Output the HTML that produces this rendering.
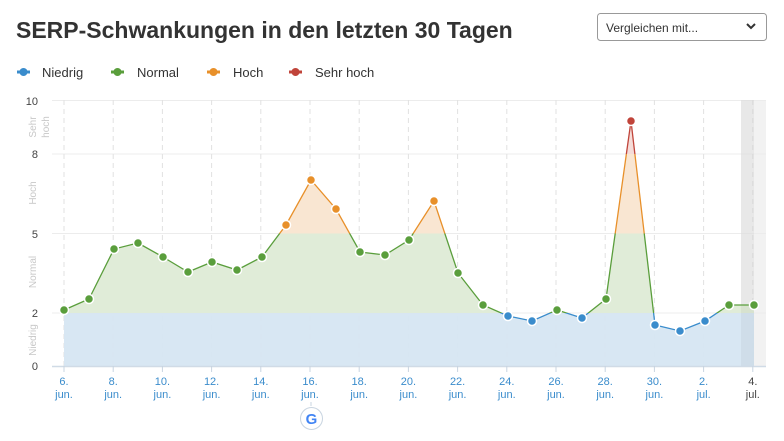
<!DOCTYPE html>
<html><head><meta charset="utf-8"><style>
body{margin:0;background:#fff;width:784px;height:436px;overflow:hidden;font-family:"Liberation Sans",sans-serif}
</style></head><body>
<svg width="784" height="436" xmlns="http://www.w3.org/2000/svg" font-family="Liberation Sans, sans-serif">
<defs>
<clipPath id="area"><path d="M64,366 L64,310 89,299 114,249 138,243 163,257 188,272 212,262 237,270 262,257 286,225 311,180 336,209 360,252 385,255 409,240 434,201 458,273 483,305 508,316 532,321 557,310 582,318 606,299 631,121 655,325 680,331 705,321 729,305 754,305 754,366 Z"/></clipPath>
<clipPath id="cb"><rect x="0" y="313" width="784" height="60"/></clipPath>
<clipPath id="cg"><rect x="0" y="233.5" width="784" height="79.5"/></clipPath>
<clipPath id="co"><rect x="0" y="154" width="784" height="79.5"/></clipPath>
<clipPath id="cr"><rect x="0" y="90" width="784" height="64"/></clipPath>
</defs>
<text x="16" y="38" font-size="23" font-weight="bold" fill="#333">SERP-Schwankungen in den letzten 30 Tagen</text>
<rect x="597.5" y="13.5" width="169" height="27" rx="3" fill="#fff" stroke="#999"/>
<text x="606" y="32" font-size="12" fill="#333">Vergleichen mit...</text>
<path d="M747,24 l4,4 l4,-4" stroke="#333" stroke-width="2" fill="none"/>
<g font-size="13" fill="#333">
<line x1="17" y1="72" x2="30" y2="72" stroke="#3a8ccc" stroke-width="3"/><circle cx="23.5" cy="72" r="4" fill="#3a8ccc"/><text x="42" y="77">Niedrig</text>
<line x1="111" y1="72" x2="124" y2="72" stroke="#5a9e3c" stroke-width="3"/><circle cx="117.5" cy="72" r="4" fill="#5a9e3c"/><text x="137" y="77">Normal</text>
<line x1="207" y1="72" x2="220" y2="72" stroke="#e8902a" stroke-width="3"/><circle cx="213.5" cy="72" r="4" fill="#e8902a"/><text x="233" y="77">Hoch</text>
<line x1="289" y1="72" x2="302" y2="72" stroke="#c0443a" stroke-width="3"/><circle cx="295.5" cy="72" r="4" fill="#c0443a"/><text x="315" y="77">Sehr hoch</text>
</g>
<rect x="741" y="100" width="25" height="266" fill="#f2f2f2"/>
<g stroke="#ececec" stroke-width="1">
<line x1="52" y1="100.5" x2="766" y2="100.5"/><line x1="52" y1="154" x2="766" y2="154"/><line x1="52" y1="233.5" x2="766" y2="233.5"/><line x1="52" y1="313" x2="766" y2="313"/>
</g>
<g stroke="#e2e2e2" stroke-dasharray="5,4">
<line x1="64" y1="100" x2="64" y2="366"/><line x1="113.2" y1="100" x2="113.2" y2="366"/><line x1="162.4" y1="100" x2="162.4" y2="366"/><line x1="211.6" y1="100" x2="211.6" y2="366"/><line x1="260.8" y1="100" x2="260.8" y2="366"/><line x1="310" y1="100" x2="310" y2="366"/><line x1="359.2" y1="100" x2="359.2" y2="366"/><line x1="408.4" y1="100" x2="408.4" y2="366"/><line x1="457.6" y1="100" x2="457.6" y2="366"/><line x1="506.8" y1="100" x2="506.8" y2="366"/><line x1="556" y1="100" x2="556" y2="366"/><line x1="605.2" y1="100" x2="605.2" y2="366"/><line x1="654.4" y1="100" x2="654.4" y2="366"/><line x1="703.6" y1="100" x2="703.6" y2="366"/><line x1="752.8" y1="100" x2="752.8" y2="366"/>
</g>
<g clip-path="url(#area)">
<rect x="0" y="313" width="784" height="53" fill="#d6e6f2" opacity="0.95"/>
<rect x="0" y="233.5" width="784" height="79.5" fill="#e0ecd8"/>
<rect x="0" y="154" width="784" height="79.5" fill="#f9e6d2"/>
<rect x="0" y="90" width="784" height="64" fill="#f5dcd8"/>
</g>
<rect x="741" y="100" width="13" height="266" fill="#000" opacity="0.04"/>
<line x1="52" y1="366.5" x2="766" y2="366.5" stroke="#d0dbe6" stroke-width="1.5"/>
<g stroke="#c8d4e0"><line x1="64" y1="366" x2="64" y2="372"/><line x1="113.2" y1="366" x2="113.2" y2="372"/><line x1="162.4" y1="366" x2="162.4" y2="372"/><line x1="211.6" y1="366" x2="211.6" y2="372"/><line x1="260.8" y1="366" x2="260.8" y2="372"/><line x1="310" y1="366" x2="310" y2="372"/><line x1="359.2" y1="366" x2="359.2" y2="372"/><line x1="408.4" y1="366" x2="408.4" y2="372"/><line x1="457.6" y1="366" x2="457.6" y2="372"/><line x1="506.8" y1="366" x2="506.8" y2="372"/><line x1="556" y1="366" x2="556" y2="372"/><line x1="605.2" y1="366" x2="605.2" y2="372"/><line x1="654.4" y1="366" x2="654.4" y2="372"/><line x1="703.6" y1="366" x2="703.6" y2="372"/><line x1="752.8" y1="366" x2="752.8" y2="372"/></g>
<g fill="none" stroke-width="1.3">
<polyline clip-path="url(#cb)" stroke="#3a8ccc" points="64,310 89,299 114,249 138,243 163,257 188,272 212,262 237,270 262,257 286,225 311,180 336,209 360,252 385,255 409,240 434,201 458,273 483,305 508,316 532,321 557,310 582,318 606,299 631,121 655,325 680,331 705,321 729,305 754,305"/>
<polyline clip-path="url(#cg)" stroke="#5a9e3c" points="64,310 89,299 114,249 138,243 163,257 188,272 212,262 237,270 262,257 286,225 311,180 336,209 360,252 385,255 409,240 434,201 458,273 483,305 508,316 532,321 557,310 582,318 606,299 631,121 655,325 680,331 705,321 729,305 754,305"/>
<polyline clip-path="url(#co)" stroke="#e8902a" points="64,310 89,299 114,249 138,243 163,257 188,272 212,262 237,270 262,257 286,225 311,180 336,209 360,252 385,255 409,240 434,201 458,273 483,305 508,316 532,321 557,310 582,318 606,299 631,121 655,325 680,331 705,321 729,305 754,305"/>
<polyline clip-path="url(#cr)" stroke="#c0443a" points="64,310 89,299 114,249 138,243 163,257 188,272 212,262 237,270 262,257 286,225 311,180 336,209 360,252 385,255 409,240 434,201 458,273 483,305 508,316 532,321 557,310 582,318 606,299 631,121 655,325 680,331 705,321 729,305 754,305"/>
</g>
<g stroke="#fff" stroke-width="1.5">
<g fill="#5a9e3c"><circle cx="64" cy="310" r="4.5"/><circle cx="89" cy="299" r="4.5"/><circle cx="114" cy="249" r="4.5"/><circle cx="138" cy="243" r="4.5"/><circle cx="163" cy="257" r="4.5"/><circle cx="188" cy="272" r="4.5"/><circle cx="212" cy="262" r="4.5"/><circle cx="237" cy="270" r="4.5"/><circle cx="262" cy="257" r="4.5"/><circle cx="360" cy="252" r="4.5"/><circle cx="385" cy="255" r="4.5"/><circle cx="409" cy="240" r="4.5"/><circle cx="458" cy="273" r="4.5"/><circle cx="483" cy="305" r="4.5"/><circle cx="557" cy="310" r="4.5"/><circle cx="606" cy="299" r="4.5"/><circle cx="729" cy="305" r="4.5"/><circle cx="754" cy="305" r="4.5"/></g>
<g fill="#e8902a"><circle cx="286" cy="225" r="4.5"/><circle cx="311" cy="180" r="4.5"/><circle cx="336" cy="209" r="4.5"/><circle cx="434" cy="201" r="4.5"/></g>
<g fill="#c0443a"><circle cx="631" cy="121" r="4.5"/></g>
<g fill="#3a8ccc"><circle cx="508" cy="316" r="4.5"/><circle cx="532" cy="321" r="4.5"/><circle cx="582" cy="318" r="4.5"/><circle cx="655" cy="325" r="4.5"/><circle cx="680" cy="331" r="4.5"/><circle cx="705" cy="321" r="4.5"/></g>
</g>
<g font-size="11" fill="#444" text-anchor="end">
<text x="38" y="105">10</text><text x="38" y="158">8</text><text x="38" y="238">5</text><text x="38" y="317">2</text><text x="38" y="370">0</text>
</g>
<g font-size="10" fill="#c8c8c8" text-anchor="middle">
<text transform="translate(36,127) rotate(-90)">Sehr</text>
<text transform="translate(49,127) rotate(-90)">hoch</text>
<text transform="translate(36,193) rotate(-90)">Hoch</text>
<text transform="translate(36,272) rotate(-90)">Normal</text>
<text transform="translate(36,340) rotate(-90)">Niedrig</text>
</g>
<g font-size="11" fill="#3a8ccc" text-anchor="middle">
<text x="64" y="385">6.</text><text x="64" y="398">jun.</text>
<text x="113.2" y="385">8.</text><text x="113.2" y="398">jun.</text>
<text x="162.4" y="385">10.</text><text x="162.4" y="398">jun.</text>
<text x="211.6" y="385">12.</text><text x="211.6" y="398">jun.</text>
<text x="260.8" y="385">14.</text><text x="260.8" y="398">jun.</text>
<text x="310" y="385">16.</text><text x="310" y="398">jun.</text>
<text x="359.2" y="385">18.</text><text x="359.2" y="398">jun.</text>
<text x="408.4" y="385">20.</text><text x="408.4" y="398">jun.</text>
<text x="457.6" y="385">22.</text><text x="457.6" y="398">jun.</text>
<text x="506.8" y="385">24.</text><text x="506.8" y="398">jun.</text>
<text x="556" y="385">26.</text><text x="556" y="398">jun.</text>
<text x="605.2" y="385">28.</text><text x="605.2" y="398">jun.</text>
<text x="654.4" y="385">30.</text><text x="654.4" y="398">jun.</text>
<text x="703.6" y="385">2.</text><text x="703.6" y="398">jul.</text>
<text x="752.8" y="385" fill="#444">4.</text><text x="752.8" y="398" fill="#444">jul.</text>
</g>
<line x1="311" y1="402" x2="311" y2="406" stroke="#c8d4e0"/>
<circle cx="311.5" cy="418.5" r="11" fill="#fff" stroke="#c8d4e0"/>
<text x="311.5" y="424" font-size="15" font-weight="bold" fill="#4285f4" text-anchor="middle">G</text>
</svg>
</body></html>
